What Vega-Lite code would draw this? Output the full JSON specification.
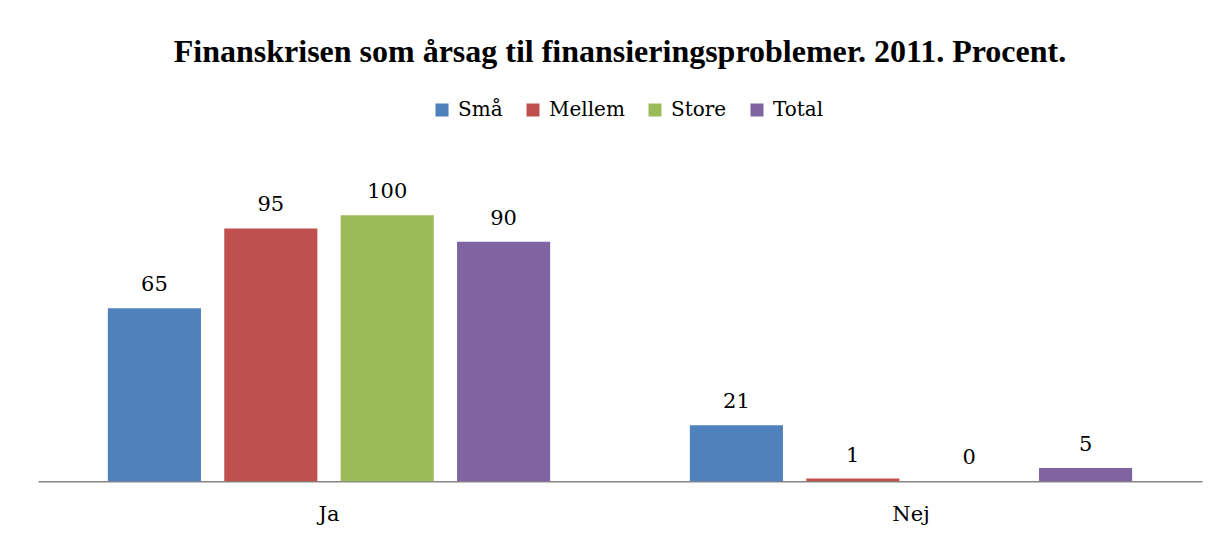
{
  "$schema": "https://vega.github.io/schema/vega-lite/v6.json",
  "width": 1164,
  "height": 319.2,
  "autosize": {"type": "none"},
  "padding": {"left": 38, "top": 162, "right": 16, "bottom": 56},
  "background": "white",
  "title": {
    "text": "Finanskrisen som årsag til finansieringsproblemer. 2011. Procent.",
    "font": "Liberation Serif",
    "fontSize": 32,
    "fontWeight": "bold",
    "color": "black",
    "anchor": "middle",
    "offset": 31
  },
  "data": {
    "values": [
      {"svar": "Ja", "gruppe": "Små", "pct": 65},
      {"svar": "Ja", "gruppe": "Mellem", "pct": 95},
      {"svar": "Ja", "gruppe": "Store", "pct": 100},
      {"svar": "Ja", "gruppe": "Total", "pct": 90},
      {"svar": "Nej", "gruppe": "Små", "pct": 21},
      {"svar": "Nej", "gruppe": "Mellem", "pct": 1},
      {"svar": "Nej", "gruppe": "Store", "pct": 0},
      {"svar": "Nej", "gruppe": "Total", "pct": 5}
    ]
  },
  "encoding": {
    "x": {
      "field": "svar", "type": "nominal", "sort": ["Ja", "Nej"],
      "scale": {"paddingInner": 0, "paddingOuter": 0},
      "axis": {
        "title": null, "labelAngle": 0, "ticks": false,
        "domainColor": "#868686", "domainWidth": 1.5,
        "labelFont": "DejaVu Serif", "labelFontSize": 21, "labelColor": "black",
        "labelPadding": 22
      }
    },
    "xOffset": {
      "field": "gruppe", "type": "nominal", "sort": ["Små", "Mellem", "Store", "Total"],
      "scale": {"paddingInner": 0.2, "paddingOuter": 0.6}
    },
    "y": {
      "field": "pct", "type": "quantitative",
      "scale": {"domain": [0, 120], "nice": false},
      "axis": null
    }
  },
  "layer": [
    {
      "mark": {"type": "bar"},
      "encoding": {
        "color": {
          "field": "gruppe", "type": "nominal", "sort": ["Små", "Mellem", "Store", "Total"],
          "scale": {"domain": ["Små", "Mellem", "Store", "Total"], "range": ["#4F81BD", "#C0504D", "#9BBB59", "#8064A2"]},
          "legend": {
            "title": null, "orient": "none", "direction": "horizontal",
            "legendX": 394, "legendY": -62,
            "symbolType": "square", "symbolSize": 169, "symbolStrokeWidth": 0,
            "labelFont": "DejaVu Serif", "labelFontSize": 20, "labelColor": "black",
            "labelOffset": 6, "columnPadding": 20
          }
        }
      }
    },
    {
      "mark": {"type": "text", "baseline": "alphabetic", "dy": -17, "font": "DejaVu Serif", "fontSize": 21, "color": "black"},
      "encoding": {"text": {"field": "pct", "type": "quantitative"}}
    }
  ],
  "config": {"view": {"stroke": null}}
}
